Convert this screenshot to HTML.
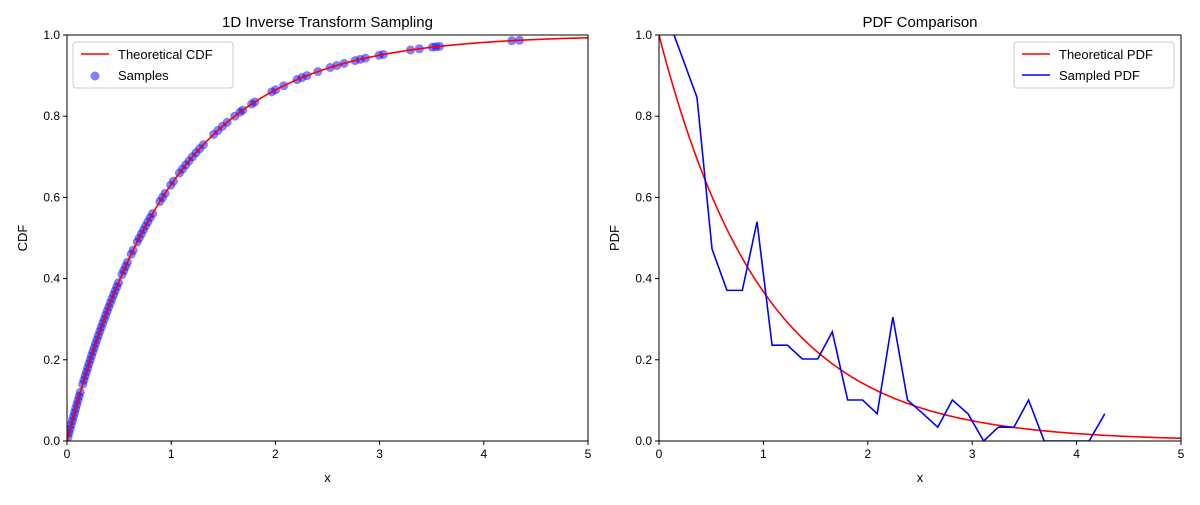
<!DOCTYPE html>
<html><head><meta charset="utf-8"><style>
body{margin:0;background:#fff}
svg text{font-family:"Liberation Sans","DejaVu Sans",sans-serif;fill:#000}
</style></head><body>
<svg id="c" width="1200" height="500" xmlns="http://www.w3.org/2000/svg"></svg>
<script>
const sampleU=[0.01,0.02,0.03,0.04,0.05,0.06,0.07,0.08,0.09,0.10,0.11,0.12,0.14,0.15,0.16,0.17,0.18,0.19,0.20,0.21,0.22,0.23,0.24,0.25,0.26,0.27,0.28,0.29,0.30,0.31,0.32,0.33,0.34,0.35,0.36,0.37,0.38,0.39,0.41,0.42,0.43,0.44,0.46,0.47,0.49,0.50,0.51,0.52,0.53,0.54,0.55,0.56,0.59,0.60,0.61,0.63,0.64,0.66,0.67,0.68,0.69,0.70,0.71,0.72,0.73,0.755,0.765,0.775,0.785,0.80,0.81,0.815,0.83,0.835,0.86,0.865,0.875,0.89,0.895,0.90,0.91,0.92,0.925,0.93,0.937,0.94,0.943,0.95,0.952,0.963,0.966,0.970,0.971,0.972,0.986,0.987];
const pdfX=[0.076,0.22,0.364,0.508,0.651,0.798,0.939,1.083,1.23,1.373,1.52,1.66,1.807,1.95,2.09,2.24,2.38,2.53,2.67,2.81,2.96,3.11,3.25,3.40,3.54,3.69,3.83,3.98,4.12,4.27];
const pdfY=[1.047,0.947,0.846,0.473,0.371,0.371,0.540,0.236,0.236,0.202,0.202,0.269,0.101,0.101,0.067,0.305,0.101,0.067,0.034,0.101,0.067,0,0.034,0.034,0.101,0,0,0,0,0.067];
const xTicks=[0,1,2,3,4,5];
const yTicks=[0,0.2,0.4,0.6,0.8,1.0];
const svg=document.getElementById('c');const NS='http://www.w3.org/2000/svg';
function el(t,a,p){const e=document.createElementNS(NS,t);for(const k in a)e.setAttribute(k,a[k]);(p||svg).appendChild(e);return e;}
function axes(x0,x1,title,ylab,pref){
 const y0=441,y1=35;
 const sx=v=>x0+(x1-x0)*v/5, sy=v=>y0-(y0-y1)*v;
 const g=el('g',{});
 xTicks.forEach(t=>{el('line',{x1:sx(t),x2:sx(t),y1:y0,y2:y0+4,stroke:'#000'},g);const tx=el('text',{x:sx(t),y:y0+17,'font-size':12,'text-anchor':'middle'},g);tx.textContent=t;});
 yTicks.forEach(t=>{el('line',{x1:x0-4,x2:x0,y1:sy(t),y2:sy(t),stroke:'#000'},g);const tx=el('text',{x:x0-7,y:sy(t)+4,'font-size':12,'text-anchor':'end'},g);tx.textContent=t.toFixed(1);});
 const tt=el('text',{x:(x0+x1)/2,y:27,'font-size':15,'text-anchor':'middle'},g);tt.textContent=title;
 const xl=el('text',{x:(x0+x1)/2,y:482,'font-size':13,'text-anchor':'middle'},g);xl.textContent='x';
 const yl=el('text',{x:0,y:0,'font-size':13,'text-anchor':'middle',transform:`translate(${x0-40},${(y0+y1)/2}) rotate(-90)`},g);yl.textContent=ylab;
 return {sx,sy,g,x0,x1,y0,y1};
}
function clip(id,a){const d=el('defs',{});const c=el('clipPath',{id},d);el('rect',{x:a.x0,y:a.y1,width:a.x1-a.x0,height:a.y0-a.y1},c);}
function curve(a,f){let p='';for(let i=0;i<=400;i++){const v=5*i/400;p+=(i?'L':'M')+a.sx(v).toFixed(2)+','+a.sy(f(v)).toFixed(2);}return p;}
// left
const A=axes(67,588,'1D Inverse Transform Sampling','CDF','cdf');clip('cl',A);
const ga=el('g',{'clip-path':'url(#cl)'});
sampleU.forEach(u=>{const x=-Math.log(1-u);const c=el('circle',{cx:A.sx(x),cy:A.sy(u),r:4.5,fill:'blue','fill-opacity':0.5},ga);});
const lc=el('path',{d:curve(A,v=>1-Math.exp(-v)),fill:'none',stroke:'red','stroke-width':1.6},ga);
el('rect',{x:67,y:35,width:521,height:406,fill:'none',stroke:'#000','stroke-width':1});
// right
const B=axes(659,1181,'PDF Comparison','PDF','pdf');clip('cr',B);
const gb=el('g',{'clip-path':'url(#cr)'});
const lp=el('path',{d:curve(B,v=>Math.exp(-v)),fill:'none',stroke:'red','stroke-width':1.6},gb);
const sp=el('path',{d:pdfX.map((x,i)=>(i?'L':'M')+B.sx(x)+','+B.sy(pdfY[i])).join(''),fill:'none',stroke:'blue','stroke-width':1.6},gb);
el('rect',{x:659,y:35,width:522,height:406,fill:'none',stroke:'#000','stroke-width':1});
// legends
function legend(x,items,name){const g=el('g',{});
 el('rect',{x,y:42,width:160,height:46,rx:3,fill:'#fff','fill-opacity':0.8,stroke:'#ccc'},g);
 items.forEach((it,i)=>{const y=54+i*21;
  if(it.t==='l')el('line',{x1:x+8,x2:x+36,y1:y,y2:y,stroke:it.c,'stroke-width':1.6},g);else el('circle',{cx:x+22,cy:y+1,r:4.5,fill:'blue','fill-opacity':0.5},g);
  const tx=el('text',{x:x+45,y:y+5,'font-size':13},g);tx.textContent=it.s;});}
legend(73,[{t:'l',c:'red',s:'Theoretical CDF'},{t:'d',s:'Samples'}],'cdf-legend');
legend(1014,[{t:'l',c:'red',s:'Theoretical PDF'},{t:'l',c:'blue',s:'Sampled PDF'}],'pdf-legend');
</script>
</body></html>
